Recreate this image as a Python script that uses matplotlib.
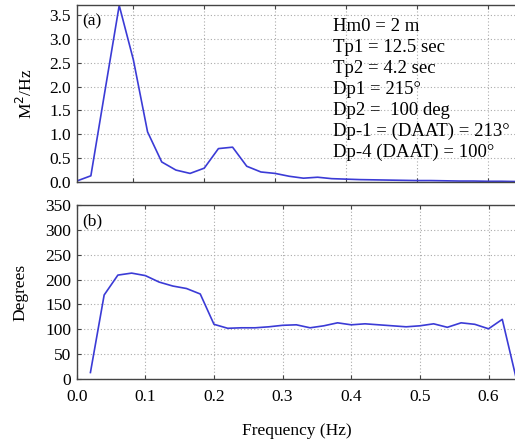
import matplotlib
matplotlib.use("Agg")
import matplotlib.pyplot as plt
import numpy as np

plt.rcParams['font.family'] = ['Liberation Serif', 'DejaVu Serif']

# Panel (a): spectral energy density
freq_a = [0.02, 0.04, 0.06, 0.08, 0.10, 0.12, 0.14, 0.16, 0.18, 0.20, 0.22,
          0.24, 0.26, 0.28, 0.30, 0.32, 0.34, 0.36, 0.38, 0.40, 0.42, 0.44,
          0.46, 0.48, 0.50, 0.52, 0.54, 0.56, 0.58, 0.60, 0.62, 0.64]
energy = [0.02, 0.13, 1.92, 3.70, 2.56, 1.05, 0.42, 0.25, 0.18, 0.29, 0.70,
          0.73, 0.33, 0.21, 0.18, 0.12, 0.08, 0.10, 0.07, 0.06, 0.05, 0.045,
          0.04, 0.035, 0.03, 0.03, 0.025, 0.02, 0.02, 0.015, 0.015, 0.01]

# Panel (b): mean direction
freq_b = [0.02, 0.04, 0.06, 0.08, 0.10, 0.12, 0.14, 0.16, 0.18, 0.20, 0.22,
          0.24, 0.26, 0.28, 0.30, 0.32, 0.34, 0.36, 0.38, 0.40, 0.42, 0.44,
          0.46, 0.48, 0.50, 0.52, 0.54, 0.56, 0.58, 0.60, 0.62, 0.64]
direction = [13, 169, 209, 213, 208, 195, 187, 182, 171, 110, 102,
             103, 103, 105, 108, 109, 103, 107, 113, 109, 111, 109,
             107, 105, 107, 111, 104, 113, 110, 101, 120, 3]

yticks_a = [0.0, 0.5, 1.0, 1.5, 2.0, 2.5, 3.0, 3.5]
yticks_b = [0, 50, 100, 150, 200, 250, 300, 350]
xticks = [0.0, 0.1, 0.2, 0.3, 0.4, 0.5, 0.6]

info_lines = ["Hm0 = 2 m", "Tp1 = 12.5 sec", "Tp2 = 4.2 sec", "Dp1 = 215°",
              "Dp2 =  100 deg", "Dp-1 = (DAAT) = 213°", "Dp-4 (DAAT) = 100°"]

W, H = 515, 440
fig = plt.figure(figsize=(W / 100, H / 100), dpi=100)

def rect(l, t, r, b):
    return [l / W, 1 - b / H, (r - l) / W, (b - t) / H]

line_color = '#3b3bd6'
spine_color = '#444444'
fs = 12.5

ax1 = fig.add_axes(rect(76.7, 5, 516, 182))
ax2 = fig.add_axes(rect(76.7, 205, 516, 379))

ax1.plot(freq_a, energy, color=line_color, lw=1.2)
ax1.set_xlim(0.02, 0.64)
ax1.set_ylim(0, 3.71)
ax1.set_yticks(yticks_a)
ax1.set_yticklabels([f"{v:.1f}" for v in yticks_a])
ax1.set_xticks(xticks[1:])
ax1.set_xticklabels([])
ax1.set_ylabel("M$^2$/Hz", fontsize=fs, labelpad=10)
ax1.text(0.012, 0.95, "(a)", transform=ax1.transAxes, fontsize=fs, va='top', ha='left')
ax1.text(333, H - 18, "\n".join(info_lines), transform=None, fontsize=13.5,
         va='top', ha='left', linespacing=1.30)

ax2.plot(freq_b, direction, color=line_color, lw=1.2)
ax2.set_xlim(0.0, 0.64)
ax2.set_ylim(0, 350)
ax2.set_yticks(yticks_b)
ax2.set_xticks(xticks)
ax2.set_xticklabels([f"{v:.1f}" for v in xticks])
ax2.set_ylabel("Degrees", fontsize=fs, labelpad=12)
ax2.set_xlabel("Frequency (Hz)", fontsize=fs, labelpad=13)
ax2.text(0.012, 0.95, "(b)", transform=ax2.transAxes, fontsize=fs, va='top', ha='left')

for ax in (ax1, ax2):
    ax.grid(True, color='#aaaaaa', linestyle=(0, (1, 2)), lw=0.8)
    ax.tick_params(direction='in', labelsize=fs, color=spine_color, length=3,
                   top=True, pad=4)
    for s in ax.spines.values():
        s.set_color(spine_color)
        s.set_linewidth(1.0)
    ax.spines['right'].set_visible(False)
ax2.tick_params(axis='x', pad=7)

fig.savefig("out.png", dpi=100)
